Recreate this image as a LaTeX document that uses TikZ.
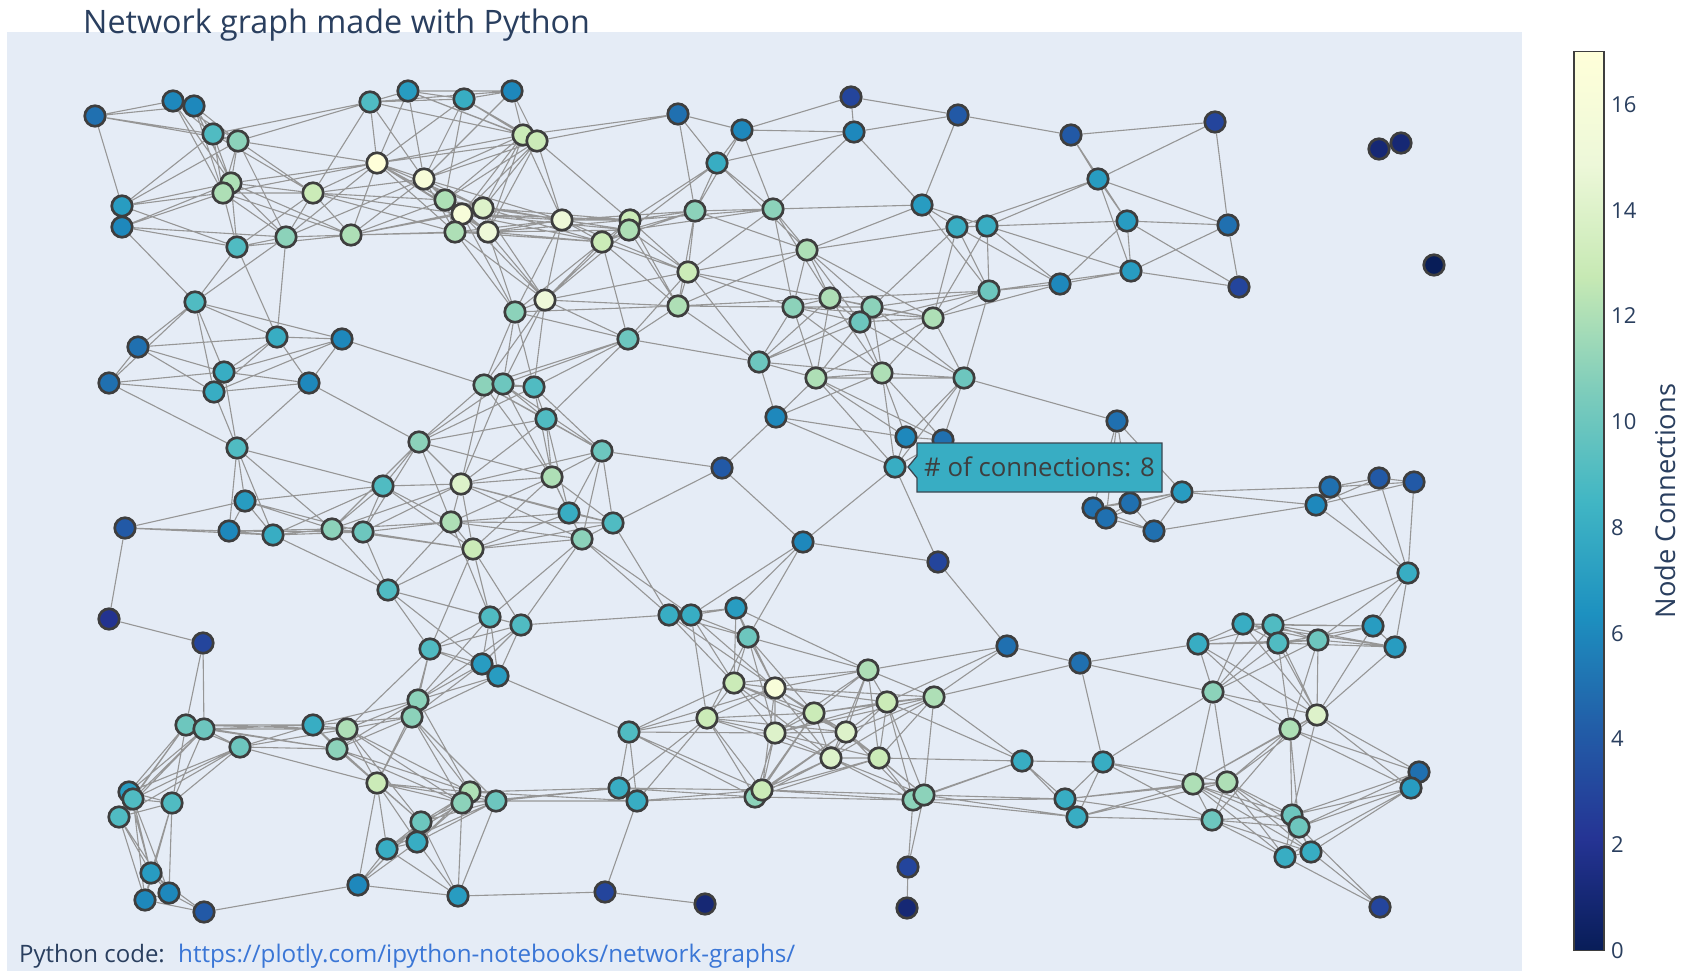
\documentclass[tikz,border=0pt]{standalone}
\usepackage{fontspec}
\setmainfont{Open Sans}
\definecolor{deg0}{RGB}{8,29,88}
\definecolor{deg1}{RGB}{22,40,116}
\definecolor{deg2}{RGB}{35,51,144}
\definecolor{deg3}{RGB}{36,69,156}
\definecolor{deg4}{RGB}{34,89,166}
\definecolor{deg5}{RGB}{32,112,176}
\definecolor{deg6}{RGB}{30,136,188}
\definecolor{deg7}{RGB}{40,156,193}
\definecolor{deg8}{RGB}{56,173,195}
\definecolor{deg9}{RGB}{80,187,194}
\definecolor{deg10}{RGB}{109,198,190}
\definecolor{deg11}{RGB}{140,210,186}
\definecolor{deg12}{RGB}{174,223,182}
\definecolor{deg13}{RGB}{203,235,184}
\definecolor{deg14}{RGB}{221,242,202}
\definecolor{deg15}{RGB}{238,248,217}
\definecolor{deg16}{RGB}{247,252,217}
\definecolor{deg17}{RGB}{255,255,217}
\definecolor{cs0}{RGB}{8,29,88}
\definecolor{cs1}{RGB}{37,52,148}
\definecolor{cs2}{RGB}{34,94,168}
\definecolor{cs3}{RGB}{29,145,192}
\definecolor{cs4}{RGB}{65,182,196}
\definecolor{cs5}{RGB}{127,205,187}
\definecolor{cs6}{RGB}{199,233,180}
\definecolor{cs7}{RGB}{237,248,217}
\definecolor{cs8}{RGB}{255,255,217}
\definecolor{plotbg}{RGB}{229,236,246}
\definecolor{fontc}{RGB}{42,63,95}
\definecolor{edgec}{RGB}{150,150,150}
\definecolor{ringc}{RGB}{62,62,62}
\definecolor{linkc}{RGB}{58,118,214}
\definecolor{tipborder}{RGB}{60,70,80}
\pgfdeclareverticalshading{ylgnbu}{100bp}{color(0bp)=(cs0); color(25bp)=(cs0); color(31.25bp)=(cs1); color(37.5bp)=(cs2); color(43.75bp)=(cs3); color(50bp)=(cs4); color(56.25bp)=(cs5); color(62.5bp)=(cs6); color(68.75bp)=(cs7); color(75bp)=(cs8); color(100bp)=(cs8)}
\pgfdeclarelayer{bglayer}
\pgfdeclarelayer{edgelayer}
\pgfsetlayers{bglayer,edgelayer,main}
\newcount\dxc
\newcount\dyc
\tikzset{
  nd/.style={circle, draw=ringc, line width=2.7pt, minimum size=20.5pt, inner sep=0pt},
  lnk/.style={draw=edgec, line width=1.1pt},
  lbl/.style={inner sep=0pt, text=fontc},
}
\begin{document}
\begin{tikzpicture}[x=1pt,y=-1pt]
\useasboundingbox (0,0) rectangle (1688,978);
\begin{pgfonlayer}{bglayer}
\fill[white] (0,0) rectangle (1688,978);
\fill[plotbg] (6.5,32) rectangle (1522,971);
\end{pgfonlayer}
% node positions (px)
\foreach \x/\y [count=\k] in {95/116,173/101,194/106,370/102,408/91,464/99,512/91,678/114,851/97,958/115,
1071/135,1215/122,1379/149,1401/143,1434/265,213/134,238/141,377/163,424/179,523/135,
537/141,742/130,854/132,717/163,1098/179,231/183,223/193,313/193,445/200,462/214,
483/208,455/232,488/232,562/220,630/220,629/230,602/242,695/211,773/209,922/205,
957/227,987/226,1127/221,1228/225,122/206,122/227,237/247,286/237,351/235,807/250,
1131/271,1239/287,1060/284,989/291,688/272,545/300,515/312,678/306,830/298,793/307,
872/307,860/322,933/318,195/302,138/347,277/337,342/339,628/339,759/362,109/383,
224/372,214/392,309/383,484/385,503/384,534/387,816/378,882/373,964/378,546/419,
776/417,1117/421,906/437,943/440,237/448,419/442,602/451,895/467,722/468,245/501,
383/486,461/484,552/477,1182/492,1330/487,1316/505,1379/478,1414/482,1093/508,1106/518,
1130/503,1154/531,125/528,229/531,273/535,332/529,363/532,451/522,569/513,613/523,
473/549,582/539,803/542,938/562,1408/573,388/590,109/619,203/643,490/617,521/625,
669/615,691/615,736/608,748/637,1007/646,1080/663,1198/644,1243/624,1273/625,1278/643,
1318/640,1373/626,1395/647,430/649,482/664,498/676,868/670,934/697,734/683,775/688,
814/713,887/702,1213/692,1317/715,1290/729,418/700,412/717,186/725,204/729,240/747,
313/725,347/729,337/749,629/732,707/718,775/733,846/732,831/758,879/758,377/783,
470/792,462/803,496/801,619/788,637/801,755/797,762/790,913/800,924/795,1022/761,
1103/762,1065/799,1077/817,1193/784,1227/782,1212/820,1292/815,1299/827,1285/857,1311/852,
1419/772,1411/788,1380/907,129/792,133/799,119/817,172/803,151/873,145/900,169/893,
204/912,421/822,417/842,387/849,358/885,458/896,605/892,705/904,908/867,907/908}{%
  \expandafter\xdef\csname px\k\endcsname{\x}%
  \expandafter\xdef\csname py\k\endcsname{\y}%
  \expandafter\xdef\csname dg\k\endcsname{0}%
}
\gdef\edgelist{}
\foreach \i in {1,...,199} {%
  \edef\jstart{\the\numexpr\i+1\relax}%
  \foreach \j in {\jstart,...,200} {%
    \dxc=\numexpr(\csname px\i\endcsname-\csname px\j\endcsname)*613/1000\relax
    \dyc=\numexpr\csname py\i\endcsname-\csname py\j\endcsname\relax
    \ifnum\numexpr\dxc*\dxc+\dyc*\dyc\relax<10733
      \xdef\edgelist{\edgelist (n\i)--(n\j)}%
      \expandafter\xdef\csname dg\i\endcsname{\the\numexpr\csname dg\i\endcsname+1\relax}%
      \expandafter\xdef\csname dg\j\endcsname{\the\numexpr\csname dg\j\endcsname+1\relax}%
    \fi
  }%
}
% nodes
\foreach \k in {1,...,200} {%
  \edef\dd{\csname dg\k\endcsname}%
  \ifnum\dd>17 \def\dd{17}\fi
  \node[nd, fill=deg\dd] (n\k) at (\csname px\k\endcsname,\csname py\k\endcsname) {};
}
% edges
\begin{pgfonlayer}{edgelayer}
\edef\drawedges{\noexpand\draw[lnk] \edgelist;}
\drawedges
\end{pgfonlayer}
% hover label
\filldraw[fill=deg8, draw=tipborder, line width=1.3pt] (908,467) -- (917,456) -- (917,443) -- (1162,443) -- (1162,492) -- (917,492) -- (917,478) -- cycle;
\node[inner sep=0pt, anchor=west, text=ringc, font=\fontsize{25.8}{31}\selectfont] (tip) at (924,467) {\# of connections: 8};
% title and footer
\node[lbl, anchor=base west, font=\fontsize{32.3}{38}\selectfont] (title) at (83,33) {Network graph made with Python};
\node[lbl, anchor=base west, font=\fontsize{24}{29}\selectfont] (pycode) at (19,962) {Python code:};
\node[inner sep=0pt, anchor=base west, text=linkc, font=\fontsize{24.2}{29}\selectfont] (link) at (178,962) {https://plotly.com/ipython-notebooks/network-graphs/};
% colorbar
\shade[shading=ylgnbu] (1574,51.5) rectangle (1604,950.5);
\draw[ringc, line width=1.3pt] (1574,51.5) rectangle (1604,950.5);
\foreach \v in {0,2,...,16} {%
  \node[lbl, anchor=west, font=\fontsize{22}{26}\selectfont] (tick\v) at (1611,950.5-52.88*\v) {\v};
}
\node[lbl, anchor=base, rotate=90, font=\fontsize{27.3}{32}\selectfont] (cbtitle) at (1675,501) {Node Connections};
\end{tikzpicture}
\end{document}
